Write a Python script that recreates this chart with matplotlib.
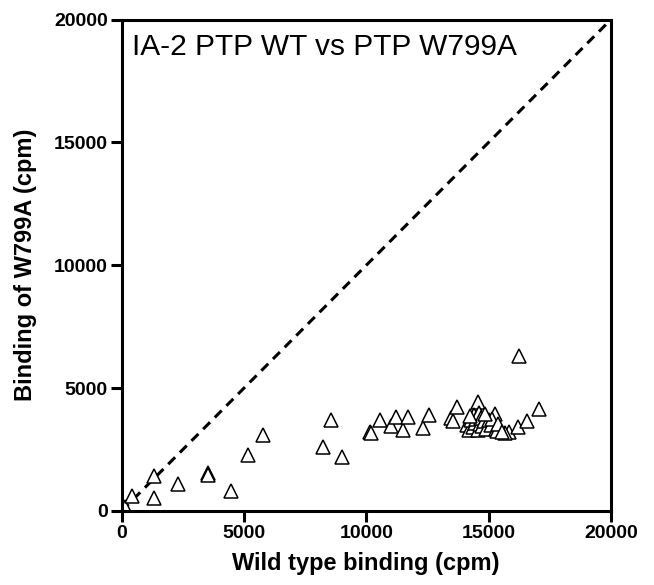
import matplotlib.pyplot as plt

plt.rcParams["font.family"] = ["Liberation Sans", "DejaVu Sans"]

# wild type binding (cpm) vs W799A binding (cpm)
wild_type = [
    135, 409, 1333, 1320, 2314, 3540, 3540, 4456, 5151, 5789,
    8218, 8557, 9019, 10151, 10192, 10560, 10998, 11214, 11488, 11717,
    12306, 12576, 13463, 13533, 13696, 14579, 15262, 15847, 15670, 16214,
    16582, 17060, 16264,
    14100, 14200, 14300, 14350, 14400, 14450, 14500, 14550, 14600, 14650,
    14700, 14750, 14800, 14900, 15000, 15100, 15127, 15300, 15331, 15400,
    15536, 14250, 14850,
]
w799a = [
    175, 612, 1429, 518, 1114, 1563, 1469, 816, 2286, 3102,
    2612, 3702, 2204, 3196, 3155, 3702, 3441, 3808, 3294, 3808,
    3359, 3918, 3784, 3673, 4216, 4420, 3947, 3196, 3155, 3429,
    3673, 4151, 6327,
    3500, 3300, 3700, 3400, 3900, 3600, 3750, 3300, 4000, 3550,
    3800, 3450, 3650, 3350, 3700, 3500, 3742, 3350, 3265, 3550,
    3196, 3850, 3950,
]
ticks = [0, 5000, 10000, 15000, 20000]
title = "IA-2 PTP WT vs PTP W799A"

fig = plt.figure(figsize=(6.54, 5.85), dpi=100)
ax = fig.add_axes([0.186, 0.1265, 0.748, 0.84])

ax.plot([0, 20000], [0, 20000], color="black", lw=2.2, ls=(0, (3.2, 2.2)))
ax.plot(wild_type, w799a, ls="none", marker="^", ms=10,
        mfc="white", mec="black", mew=1.1)

ax.set_xlim(0, 20000)
ax.set_ylim(0, 20000)
ax.set_xticks(ticks)
ax.set_yticks(ticks)
ax.tick_params(direction="out", length=8, width=2.2, labelsize=14, pad=2)
for lab in ax.get_xticklabels() + ax.get_yticklabels():
    lab.set_fontweight("bold")
for sp in ax.spines.values():
    sp.set_linewidth(2.2)

ax.set_xlabel("Wild type binding (cpm)", fontsize=17, fontweight="bold", labelpad=7)
ax.set_ylabel("Binding of W799A (cpm)", fontsize=17, fontweight="bold", labelpad=12)
ax.text(0.022, 0.972, title, transform=ax.transAxes, fontsize=21.5,
        ha="left", va="top")

fig.savefig("out.png", dpi=100)
